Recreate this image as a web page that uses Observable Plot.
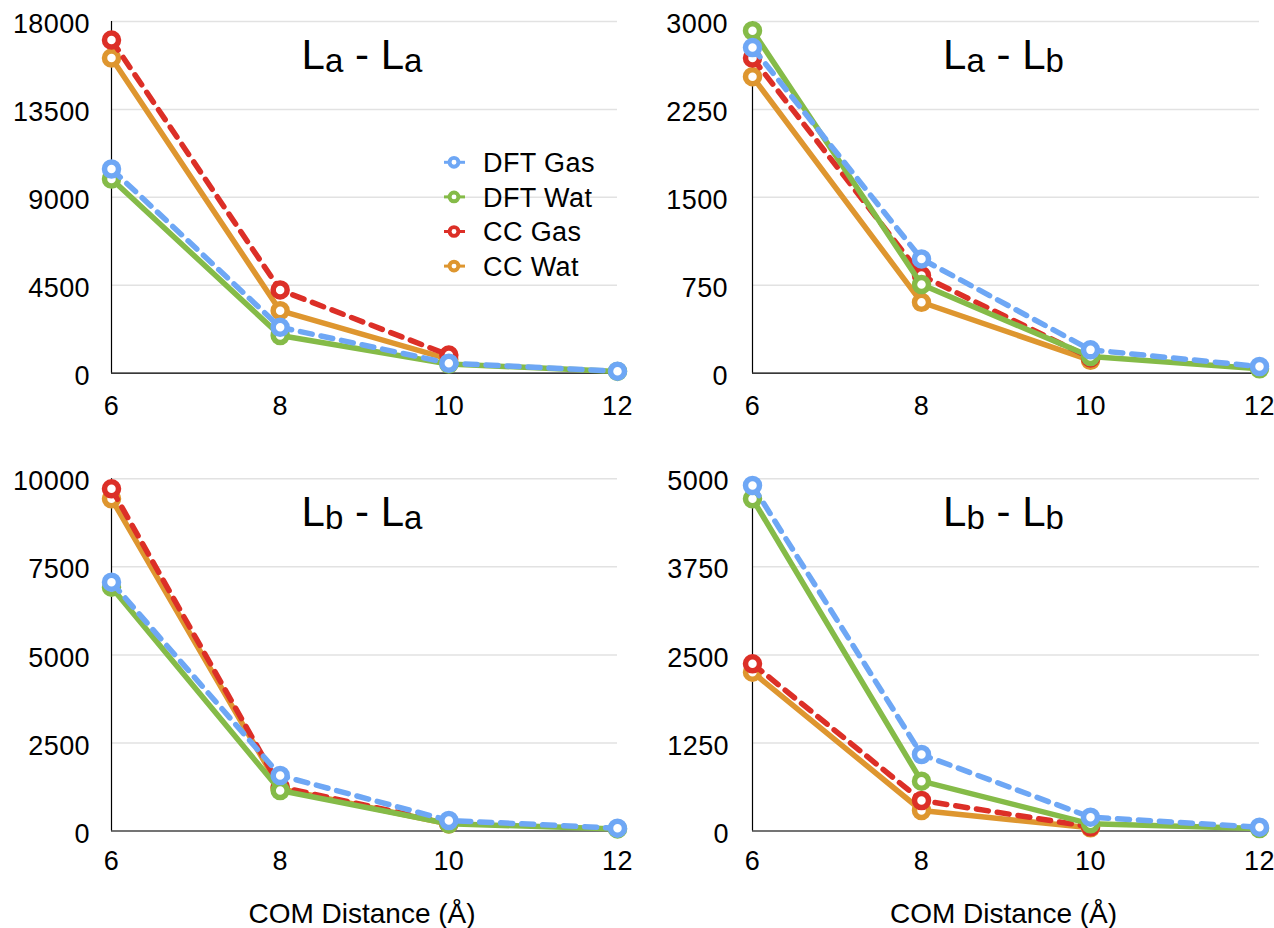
<!DOCTYPE html>
<html><head><meta charset="utf-8">
<script src="https://cdn.jsdelivr.net/npm/d3@7"></script>
<script src="https://cdn.jsdelivr.net/npm/@observablehq/plot@0.6"></script>
<style>
html,body{margin:0;padding:0;background:#fff;}
#chart{position:relative;width:1274px;height:928px;overflow:hidden;background:#fff;}
#chart svg{position:absolute;}
</style></head><body><div id="chart"></div>
<script>
// ---- data ----
const distances = [6, 8, 10, 12];
const seriesNames = ["DFT Gas", "DFT Wat", "CC Gas", "CC Wat"];
const seriesColors = ["#6ea7f5", "#85bb48", "#dc2f27", "#de962f"];
const seriesDashed = [true, false, true, false];

const laLaDftGas = [10450, 2350, 510, 102];
const laLaDftWat = [9940, 1930, 470, 90];
const laLaCcGas  = [17050, 4260, 930];
const laLaCcWat  = [16130, 3200, 720];

const laLbDftGas = [2778, 975, 199, 57];
const laLbDftWat = [2921, 756, 142, 37];
const laLbCcGas  = [2688, 833, 130];
const laLbCcWat  = [2529, 605, 110];

const lbLaDftGas = [7064, 1576, 298, 80];
const lbLaDftWat = [6922, 1150, 204, 60];
const lbLaCcGas  = [9716, 1250, 220];
const lbLaCcWat  = [9432, 1200, 200];

const lbLbDftGas = [4905, 1086, 196, 54];
const lbLbDftWat = [4716, 707, 102, 35];
const lbLbCcGas  = [2374, 433, 60];
const lbLbCcWat  = [2255, 291, 45];

const yTicksLaLa = [0, 4500, 9000, 13500, 18000];
const yTicksLaLb = [0, 750, 1500, 2250, 3000];
const yTicksLbLa = [0, 2500, 5000, 7500, 10000];
const yTicksLbLb = [0, 1250, 2500, 3750, 5000];
const xTicks = [6, 8, 10, 12];

const titleLaLa = [["L", "a"], ["L", "a"]];
const titleLaLb = [["L", "a"], ["L", "b"]];
const titleLbLa = [["L", "b"], ["L", "a"]];
const titleLbLb = [["L", "b"], ["L", "b"]];
const xAxisTitle = "COM Distance (Å)";

// ---- drawing ----
const FONT = '"Liberation Sans", Arial, Helvetica, sans-serif';
const chart = document.getElementById("chart");

function makePanel(cfg) {
  const data = cfg.values.map((vals, i) =>
    vals.map((v, j) => ({x: distances[j], y: v, s: seriesNames[i]})));
  const marks = [
    Plot.gridY(cfg.ticks, {stroke: "#e2e2e2", strokeOpacity: 1, strokeWidth: 1.5}),
    Plot.ruleX([distances[0]], {stroke: "#000", strokeWidth: 1.2}),
    Plot.ruleY([0], {stroke: "#000", strokeWidth: 1.2}),
    Plot.axisY(cfg.ticks, {tickSize: 0, tickPadding: cfg.yPad, tickFormat: d => String(d), dy: 3, label: null}),
    Plot.axisX(xTicks, {tickSize: 0, tickPadding: cfg.xPad, tickFormat: d => String(d), label: null})
  ];
  for (let i = 3; i >= 0; i--) {
    marks.push(Plot.line(data[i], {
      x: "x", y: "y", stroke: seriesColors[i], strokeWidth: 5.5,
      strokeDasharray: seriesDashed[i] ? "12,9" : undefined,
      strokeLinejoin: "round"
    }));
    marks.push(Plot.dot(data[i], {
      x: "x", y: "y", r: 7, stroke: seriesColors[i], strokeWidth: 5.5, fill: "white"
    }));
  }
  const svg = Plot.plot({
    width: cfg.width, height: cfg.height,
    marginLeft: cfg.ml, marginRight: cfg.mr, marginTop: cfg.mt, marginBottom: cfg.mb,
    x: {domain: [6, 12], label: null},
    y: {domain: [0, cfg.ticks[cfg.ticks.length - 1]], label: null},
    style: {fontFamily: FONT, fontSize: "27px", letterSpacing: "0.4px", color: "#000", background: "transparent", overflow: "visible"},
    marks
  });
  svg.style.left = cfg.left + "px";
  svg.style.top = cfg.top + "px";
  chart.appendChild(svg);

  const xr = [cfg.ml, cfg.width - cfg.mr];
  const cx = (xr[0] + xr[1]) / 2 - 2;
  const sel = d3.select(svg);
  const t = sel.append("text")
    .attr("x", cx).attr("y", cfg.mt + 47.5)
    .attr("text-anchor", "middle").attr("letter-spacing", 0)
    .attr("font-family", FONT).attr("font-size", 42).attr("fill", "#000");
  cfg.title.forEach((part, k) => {
    if (k > 0) t.append("tspan").attr("font-size", 42).attr("dy", -3).text(" - ");
    t.append("tspan").attr("font-size", 42).text(part[0]);
    t.append("tspan").attr("font-size", 33).attr("dy", 3).text(part[1]);
  });
  if (cfg.xTitle) {
    sel.append("text")
      .attr("x", cx).attr("y", cfg.height - cfg.mb + 92.5)
      .attr("text-anchor", "middle").attr("letter-spacing", 0)
      .attr("font-family", FONT).attr("font-size", 28).attr("fill", "#000")
      .text(cfg.xTitle);
  }
  return svg;
}

const p1 = makePanel({values: [laLaDftGas, laLaDftWat, laLaCcGas, laLaCcWat], ticks: yTicksLaLa,
  title: titleLaLa, left: 0, top: 0, width: 637, height: 420, ml: 111, mr: 20, mt: 21, mb: 47.3,
  yPad: 21.5, xPad: 23});
makePanel({values: [laLbDftGas, laLbDftWat, laLbCcGas, laLbCcWat], ticks: yTicksLaLb,
  title: titleLaLb, left: 637, top: 0, width: 637, height: 420, ml: 115, mr: 15, mt: 21, mb: 47.3,
  yPad: 24.5, xPad: 23});
makePanel({values: [lbLaDftGas, lbLaDftWat, lbLaCcGas, lbLaCcWat], ticks: yTicksLbLa,
  title: titleLbLa, left: 0, top: 455, width: 637, height: 473, ml: 111, mr: 20, mt: 23.3, mb: 97.5,
  yPad: 21.5, xPad: 19.5, xTitle: xAxisTitle});
makePanel({values: [lbLbDftGas, lbLbDftWat, lbLbCcGas, lbLbCcWat], ticks: yTicksLbLb,
  title: titleLbLb, left: 637, top: 455, width: 637, height: 473, ml: 115, mr: 15, mt: 23.3, mb: 97.5,
  yPad: 23.5, xPad: 19.5, xTitle: xAxisTitle});

// legend inside the first panel
const lg = d3.select(p1).append("g")
  .attr("font-family", FONT).attr("font-size", 27).attr("text-anchor", "start").attr("letter-spacing", 0.4);
seriesNames.forEach((name, i) => {
  const y = 162.3 + i * 34.6;
  const g = lg.append("g").attr("transform", `translate(454,${y})`);
  g.append("line").attr("x1", -10).attr("x2", 11).attr("stroke", seriesColors[i]).attr("stroke-width", 3);
  g.append("circle").attr("r", 4.4).attr("fill", "white").attr("stroke", seriesColors[i]).attr("stroke-width", 3.9);
  g.append("text").attr("x", 29).attr("dy", "0.36em").attr("text-anchor", "start").attr("fill", "#000").text(name);
});
</script></body></html>
